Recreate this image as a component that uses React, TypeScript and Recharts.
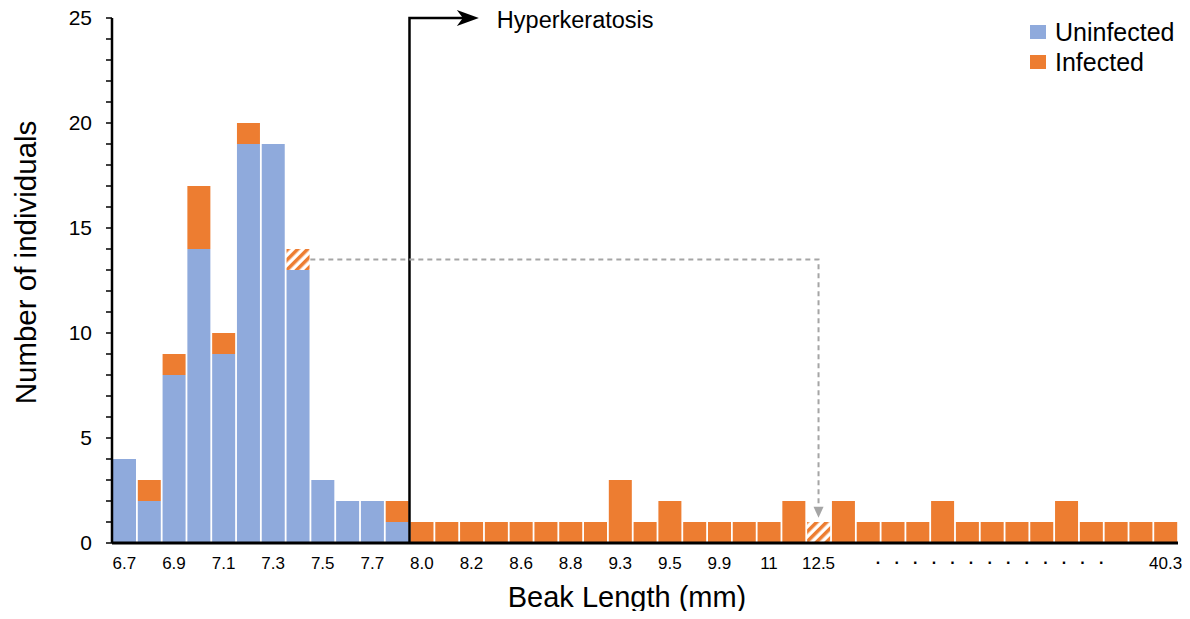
import { Bar, BarChart, Cell, Label, Legend, ReferenceLine, XAxis, YAxis } from "recharts";

const FONT = '"Liberation Sans", Arial, sans-serif';
const BLUE = "#8FAADC";
const ORANGE = "#ED7D31";
const GREY = "#A5A5A5";

// one entry per bin, blank where the original axis has no label
const tickLabels = [
  "6.7", "", "6.9", "", "7.1", "", "7.3", "", "7.5", "", "7.7", "",
  "8.0", "", "8.2", "", "8.6", "", "8.8", "", "9.3", "", "9.5", "", "9.9", "", "11", "",
  "12.5", "", "", "", "", "", "", ". . . . . . . . . . . . .", "", "", "", "", "", "", "40.3",
];

const uninfected = [
  4, 2, 8, 14, 9, 19, 19, 13, 3, 2, 2, 1,
  0, 0, 0, 0, 0, 0, 0, 0, 0, 0, 0, 0, 0, 0, 0, 0,
  0, 0, 0, 0, 0, 0, 0, 0, 0, 0, 0, 0, 0, 0, 0,
];
const infected = [
  0, 1, 1, 3, 1, 1, 0, 1, 0, 0, 0, 1,
  1, 1, 1, 1, 1, 1, 1, 1, 3, 1, 2, 1, 1, 1, 1, 2,
  1, 2, 1, 1, 1, 2, 1, 1, 1, 1, 2, 1, 1, 1, 1,
];

// the same individual, shown hatched before and after hyperkeratosis
const hatchedBins = [7, 28];
const transferY = [13.5, 1.2];

const yTicks = [0, 1, 2, 3, 4, 5, 6, 7, 8, 9, 10, 11, 12, 13, 14, 15, 16, 17, 18, 19, 20, 21, 22, 23, 24, 25];

const hyperStart = 11;
const hyperEnd = 14;

const legendOrder = ["Uninfected", "Infected"];

const data = tickLabels.map((label, i) => ({
  i,
  label,
  uninfected: uninfected[i],
  infected: infected[i],
}));

function XTick({ x, y, payload }: any) {
  const label = tickLabels[payload.value];
  if (!label) return <g />;
  const dots = label.startsWith(".");
  return (
    <text
      x={x}
      y={y + (dots ? 15 : 20)}
      dy="0.35em"
      textAnchor="middle"
      fontSize={dots ? 16 : 17}
      fontFamily={FONT}
      fontWeight={dots ? 700 : 400}
      letterSpacing={dots ? 4.85 : 0}
      fill="#000"
    >
      {label}
    </text>
  );
}

function HyperArrow({ x1, y1, x2, y2 }: any) {
  const tip = x2 - 5;
  return (
    <g>
      <path d={`M${x1},${y1} V${y2} H${tip - 14}`} stroke="#000" strokeWidth={2.5} fill="none" />
      <path d={`M${tip},${y2} L${tip - 22},${y2 - 8} L${tip - 16},${y2} L${tip - 22},${y2 + 8} Z`} fill="#000" />
      <text x={x2 + 13} y={y2 + 10} fontSize={23.5} fontFamily={FONT} fill="#000">
        Hyperkeratosis
      </text>
    </g>
  );
}

function TransferArrow({ x1, y1, x2, y2 }: any) {
  const half = (x2 - x1) / (hatchedBins[1] - hatchedBins[0]) / 2;
  return (
    <g>
      <path
        d={`M${x1 + half},${y1} H${x2} V${y2 - 8}`}
        stroke={GREY}
        strokeWidth={2}
        strokeDasharray="5 4"
        fill="none"
      />
      <path d={`M${x2},${y2} L${x2 - 5},${y2 - 11} L${x2 + 5},${y2 - 11} Z`} fill={GREY} />
    </g>
  );
}

function LegendBox({ payload }: any) {
  const items = [...(payload || [])].sort(
    (a: any, b: any) => legendOrder.indexOf(a.value) - legendOrder.indexOf(b.value)
  );
  return (
    <div>
      {items.map((p: any) => (
        <div key={p.value} style={{ display: "flex", alignItems: "center", height: 30 }}>
          <span style={{ display: "inline-block", width: 16, height: 14, background: p.color, marginRight: 9 }} />
          <span style={{ fontSize: 25, fontFamily: FONT, color: "#000", lineHeight: "30px" }}>{p.value}</span>
        </div>
      ))}
    </div>
  );
}

export default function App() {
  return (
    <div style={{ width: 1190, height: 619, margin: -8, position: "relative", fontFamily: FONT }}>
      <BarChart
        width={1190}
        height={619}
        data={data}
        margin={{ top: 18, right: 12, bottom: 0, left: 0 }}
        barCategoryGap={1}
      >
        <defs>
          <pattern id="hatch" patternUnits="userSpaceOnUse" width={7} height={7} patternTransform="rotate(45)">
            <rect width={7} height={7} fill="#fff" />
            <rect width={3.5} height={7} fill={ORANGE} />
          </pattern>
        </defs>
        <XAxis
          dataKey="i"
          type="category"
          height={76}
          interval={0}
          tickLine={false}
          tickSize={0}
          tickMargin={0}
          axisLine={{ stroke: "#000", strokeWidth: 3 }}
          tick={XTick}
        >
          <Label
            content={({ viewBox }: any) => (
              <text
                x={viewBox.x + viewBox.width / 2 - 18}
                y={viewBox.y + 54}
                dy="0.35em"
                textAnchor="middle"
                fontSize={29}
                fontFamily={FONT}
                fill="#000"
              >
                Beak Length (mm)
              </text>
            )}
          />
        </XAxis>
        <YAxis
          width={112}
          domain={[0, 25]}
          ticks={yTicks}
          interval={0}
          tickSize={6}
          tickMargin={14}
          tickFormatter={(v: number) => (v % 5 === 0 ? String(v) : "")}
          tick={{ fontSize: 21, fill: "#000", fontFamily: FONT }}
          tickLine={{ stroke: "#000", strokeWidth: 1.5 }}
          axisLine={{ stroke: "#000", strokeWidth: 2.5 }}
        >
          <Label
            content={({ viewBox }: any) => {
              const cx = viewBox.x + 26;
              const cy = viewBox.y + viewBox.height / 2 - 18;
              return (
                <text
                  x={cx}
                  y={cy}
                  dy="0.35em"
                  textAnchor="middle"
                  fontSize={29.5}
                  fontFamily={FONT}
                  fill="#000"
                  transform={`rotate(-90, ${cx}, ${cy})`}
                >
                  Number of individuals
                </text>
              );
            }}
          />
        </YAxis>
        <Legend
          layout="vertical"
          align="center"
          verticalAlign="middle"
          content={LegendBox}
          wrapperStyle={{ left: 1030, top: 17, width: 160 }}
        />
        <Bar dataKey="uninfected" name="Uninfected" stackId="a" fill={BLUE} isAnimationActive={false} />
        <Bar dataKey="infected" name="Infected" stackId="a" fill={ORANGE} isAnimationActive={false}>
          {data.map((d) => (
            <Cell key={d.i} fill={hatchedBins.includes(d.i) ? "url(#hatch)" : ORANGE} />
          ))}
        </Bar>
        <ReferenceLine
          segment={[
            { x: hyperStart, y: 0 },
            { x: hyperEnd, y: 25 },
          ]}
          position="end"
          ifOverflow="visible"
          shape={HyperArrow}
        />
        <ReferenceLine
          segment={[
            { x: hatchedBins[0], y: transferY[0] },
            { x: hatchedBins[1], y: transferY[1] },
          ]}
          position="middle"
          ifOverflow="visible"
          shape={TransferArrow}
        />
      </BarChart>
    </div>
  );
}
